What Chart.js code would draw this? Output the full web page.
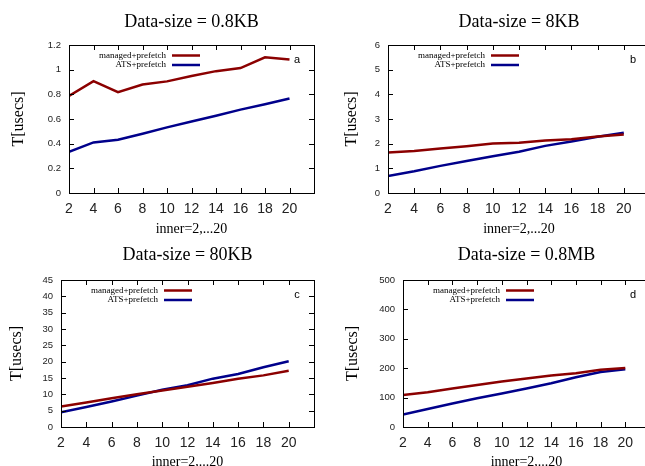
<!DOCTYPE html>
<html>
<head>
<meta charset="utf-8">
<script src="https://cdn.jsdelivr.net/npm/chart.js@4.4.1/dist/chart.umd.min.js"></script>
<style>
  html, body { margin: 0; padding: 0; background: #fff; width: 645px; height: 466px; overflow: hidden; position: relative; }
  canvas { position: absolute; }
</style>
</head>
<body>
<canvas id="chartA"></canvas>
<canvas id="chartB"></canvas>
<canvas id="chartC"></canvas>
<canvas id="chartD"></canvas>
<script>
// x values (inner = 2..20)
const inner = [2, 4, 6, 8, 10, 12, 14, 16, 18, 20];
const seriesNames = ['managed+prefetch', 'ATS+prefetch'];
const seriesColors = ['#8b0000', '#00008b'];

// Data-size = 0.8KB
const managedA = [0.787, 0.907, 0.817, 0.880, 0.905, 0.948, 0.988, 1.013, 1.100, 1.083];
const atsA     = [0.334, 0.410, 0.432, 0.480, 0.532, 0.580, 0.627, 0.676, 0.720, 0.766];
// Data-size = 8KB
const managedB = [1.64, 1.70, 1.80, 1.90, 2.01, 2.04, 2.13, 2.18, 2.29, 2.37];
const atsB     = [0.69, 0.88, 1.10, 1.30, 1.49, 1.67, 1.91, 2.09, 2.28, 2.44];
// Data-size = 80KB
const managedC = [6.3, 7.5, 8.8, 10.0, 11.2, 12.3, 13.5, 14.8, 15.8, 17.2];
const atsC     = [4.5, 6.1, 7.8, 9.6, 11.4, 12.8, 14.8, 16.2, 18.3, 20.1];
// Data-size = 0.8MB
const managedD = [109, 118, 131, 143, 155, 165, 175, 183, 195, 201];
const atsD     = [42, 61, 80, 98, 114, 131, 149, 169, 187, 196];

const panels = [
  { id: 'chartA', title: 'Data-size = 0.8KB', letter: 'a', managed: managedA, ats: atsA, yMax: 1.2, yStep: 0.2,
    box: { left: 0, top: 0, w: 322, h: 240 }, area: { l: 69, t: 45, r: 316, b: 193 }, titleY: 22, yTitleX: 18.5, xTitleY: 229 },
  { id: 'chartB', title: 'Data-size = 8KB', letter: 'b', managed: managedB, ats: atsB, yMax: 6, yStep: 1,
    box: { left: 320, top: 0, w: 340, h: 240 }, area: { l: 388, t: 45, r: 650, b: 193 }, titleY: 22, yTitleX: 352, xTitleY: 229 },
  { id: 'chartC', title: 'Data-size = 80KB', letter: 'c', managed: managedC, ats: atsC, yMax: 45, yStep: 5,
    box: { left: 0, top: 235, w: 322, h: 240 }, area: { l: 61, t: 280, r: 316, b: 427 }, titleY: 255, yTitleX: 17, xTitleY: 462 },
  { id: 'chartD', title: 'Data-size = 0.8MB', letter: 'd', managed: managedD, ats: atsD, yMax: 500, yStep: 100,
    box: { left: 320, top: 235, w: 340, h: 240 }, area: { l: 403, t: 280, r: 650, b: 427 }, titleY: 255, yTitleX: 353, xTitleY: 462 }
];

// gnuplot-like frame, inward ticks, key and panel letter
const gnuplotFrame = {
  id: 'gnuplotFrame',
  afterDatasetsDraw(chart, args, opts) {
    const { ctx, chartArea: a, scales: { x, y } } = chart;
    ctx.save();
    ctx.strokeStyle = '#000';
    ctx.lineWidth = 1;
    ctx.strokeRect(Math.round(a.left) + 0.5, Math.round(a.top) + 0.5, Math.round(a.right - a.left), Math.round(a.bottom - a.top));
    ctx.beginPath();
    x.ticks.forEach(t => {
      const px = Math.round(x.getPixelForValue(t.value)) + 0.5;
      ctx.moveTo(px, a.bottom); ctx.lineTo(px, a.bottom - 5);
      ctx.moveTo(px, a.top); ctx.lineTo(px, a.top + 5);
    });
    y.ticks.forEach(t => {
      const py = Math.round(y.getPixelForValue(t.value)) + 0.5;
      ctx.moveTo(a.left, py); ctx.lineTo(a.left + 5, py);
      ctx.moveTo(a.right, py); ctx.lineTo(a.right - 5, py);
    });
    ctx.stroke();

    // key
    ctx.font = '9px "Liberation Serif"';
    ctx.textAlign = 'right';
    ctx.textBaseline = 'middle';
    chart.data.datasets.forEach((ds, i) => {
      const ky = a.top + 10.5 + i * 9.5;
      ctx.fillStyle = '#000';
      ctx.fillText(ds.label, a.left + 97, ky);
      ctx.strokeStyle = ds.borderColor;
      ctx.lineWidth = 2.5;
      ctx.beginPath();
      ctx.moveTo(a.left + 103, ky);
      ctx.lineTo(a.left + 131, ky);
      ctx.stroke();
    });

    // panel letter
    ctx.font = '11px "Liberation Sans"';
    ctx.textAlign = 'center';
    ctx.fillStyle = '#000';
    ctx.fillText(opts.letter, a.right - 17, a.top + 15);
    ctx.restore();
  }
};

panels.forEach(p => {
  const canvas = document.getElementById(p.id);
  canvas.width = p.box.w;
  canvas.height = p.box.h;
  canvas.style.left = p.box.left + 'px';
  canvas.style.top = p.box.top + 'px';

  const l = p.area.l - p.box.left;
  const t = p.area.t - p.box.top;
  const r = p.area.r - p.box.left;
  const b = p.area.b - p.box.top;
  const titlePadTop = p.titleY - p.box.top - 10.8;
  const titlePadBottom = t - titlePadTop - 21.6;
  const xHeight = p.xTitleY - p.box.top + 8.4 - b;
  const yTitlePad = p.yTitleX - p.box.left - 9.6;

  new Chart(canvas, {
    type: 'line',
    data: {
      datasets: [
        { label: seriesNames[0], data: inner.map((v, i) => ({ x: v, y: p.managed[i] })), borderColor: seriesColors[0], borderWidth: 2.5, pointRadius: 0, tension: 0 },
        { label: seriesNames[1], data: inner.map((v, i) => ({ x: v, y: p.ats[i] })), borderColor: seriesColors[1], borderWidth: 2.5, pointRadius: 0, tension: 0 }
      ]
    },
    options: {
      responsive: false,
      animation: false,
      devicePixelRatio: 1,
      layout: { padding: { left: 0, top: 0, right: p.box.w - r, bottom: Math.max(0, p.box.h - b - xHeight) } },
      plugins: {
        legend: { display: false },
        tooltip: { enabled: false },
        title: {
          display: true, text: p.title, fullSize: false, color: '#000',
          font: { family: 'Liberation Serif', size: 18, weight: 'normal', lineHeight: 1.2 },
          padding: { top: titlePadTop, bottom: titlePadBottom }
        },
        gnuplotFrame: { letter: p.letter }
      },
      scales: {
        x: {
          type: 'linear', min: 2, max: 22,
          grid: { display: false, drawTicks: false },
          border: { display: false },
          ticks: { stepSize: 2, padding: 8, color: '#222', font: { family: 'Liberation Sans', size: 14 }, maxRotation: 0,
                   callback: v => (v > 20 ? '' : v) },
          title: { display: true, text: 'inner=2,...20', color: '#000',
                   font: { family: 'Liberation Serif', size: 14, lineHeight: 1.2 }, padding: { top: 0, bottom: 0 } },
          afterFit: s => { s.height = xHeight; }
        },
        y: {
          min: 0, max: p.yMax,
          grid: { display: false, drawTicks: false },
          border: { display: false },
          ticks: { stepSize: p.yStep, padding: 8, color: '#222', font: { family: 'Liberation Sans', size: 9.5 },
                   callback: v => String(Math.round(v * 100) / 100) },
          title: { display: true, text: 'T[usecs]', color: '#000',
                   font: { family: 'Liberation Serif', size: 16, lineHeight: 1.2 }, padding: { top: yTitlePad, bottom: 0 } },
          afterFit: s => { s.width = l; }
        }
      }
    },
    plugins: [gnuplotFrame]
  });
});
</script>
</body>
</html>
